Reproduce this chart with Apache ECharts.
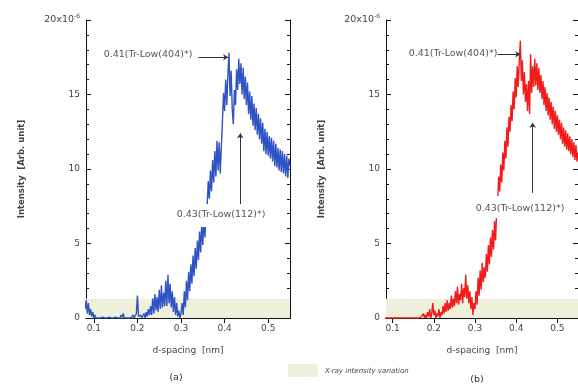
<!DOCTYPE html>
<html>
<head>
<meta charset="utf-8">
<script src="https://cdn.jsdelivr.net/npm/echarts@6/dist/echarts.min.js"></script>
<style>
  html, body { margin: 0; padding: 0; background: #fff; }
  #chart { width: 578px; height: 385px; }
</style>
</head>
<body>
<div id="chart"></div>
<script>
// d-spacing sampling of the spectra (nm)
const dStart = 0.08
const dStep = 0.0025

const xTicks = [0.1, 0.2, 0.3, 0.4, 0.5]
const yTicks = [0, 5, 10, 15, 20]

// (a) blue spectrum, one value per step from 0.08 to 0.55
const intensityA = [
  0.6, 1.2, 0.3, 1.0, 0.2, 0.6, 0.1, 0.4, 0.0, 0.2,
  0, 0.05, 0, 0.1, 0, 0, 0.05, 0, 0, 0.1,
  0, 0, 0.05, 0, 0, 0.1, 0, 0, 0.05, 0,
  0, 0.1, 0, 0.2, 0.05, 0.3, 0, 0.1, 0, 0.05,
  0, 0.1, 0, 0.05, 0.2, 0, 0.1, 0.3, 1.5, 0.1,
  0, 0.2, 0, 0.1, 0.3, 0, 0.4, 0.1, 0.6, 0.2,
  0.8, 0.2, 1.3, 0.3, 1.6, 0.5, 1.4, 0.4, 1.9, 0.6,
  2.2, 0.7, 1.7, 0.8, 2.5, 0.8, 2.9, 1.0, 2.3, 0.7,
  1.8, 0.4, 1.4, 0.2, 1.0, 0.1, 0.5, 0.0, 0.3, 1.0,
  0.2, 1.8, 0.7, 2.5, 1.2, 3.1, 1.8, 3.6, 2.3, 4.2,
  2.8, 4.7, 3.3, 5.2, 3.9, 5.8, 4.4, 6.3, 4.9, 6.8,
  5.4, 7.4, 7.6, 9.2, 8.0, 9.9, 8.5, 10.6, 9.1, 11.2,
  9.5, 11.9, 9.9, 11.8, 9.7, 11.5, 13.2, 15.1, 13.9, 16.0,
  14.3, 16.3, 17.8, 14.9, 16.6, 14.0, 13.0, 15.3, 14.3, 16.7,
  15.3, 17.4, 15.7, 17.1, 15.0, 16.8, 14.7, 16.2, 14.3, 15.8,
  13.7, 15.2, 13.3, 14.9, 12.9, 14.4, 12.6, 14.1, 12.3, 13.7,
  12.0, 13.4, 11.7, 13.1, 11.2, 12.7, 11.0, 12.5, 10.9, 12.2,
  10.7, 12.1, 10.5, 11.9, 10.2, 11.7, 10.1, 11.4, 9.9, 11.3,
  9.8, 11.2, 9.7, 11.0, 9.5, 10.9, 9.4, 10.7, 10.2
]

// (b) red spectrum
const intensityB = [
  0, 0, 0, 0, 0, 0, 0, 0, 0, 0,
  0, 0, 0, 0, 0, 0, 0, 0, 0, 0,
  0, 0, 0, 0, 0, 0, 0, 0, 0, 0,
  0, 0, 0, 0, 0, 0, 0.1, 0, 0.3, 0,
  0.2, 0, 0.4, 0.1, 0.6, 0, 0.3, 1.0, 0.2, 0.5,
  0, 0.3, 0.1, 0.6, 0, 0.4, 0.2, 0.8, 0.3, 1.0,
  0.4, 1.2, 0.5, 1.0, 0.6, 1.5, 0.7, 1.3, 0.8, 1.8,
  1.0, 2.1, 0.9, 1.6, 1.2, 2.3, 1.0, 2.0, 1.4, 2.9,
  1.3, 2.2, 1.0, 1.8, 0.6, 1.4, 0.2, 1.0, 0.6, 1.8,
  0.9, 2.7, 1.5, 3.2, 1.9, 3.7, 2.4, 3.4, 2.7, 4.3,
  3.1, 4.9, 3.6, 5.4, 4.1, 5.9, 4.6, 6.5, 5.2, 7.1,
  7.7, 9.5, 8.5, 10.3, 9.1, 11.1, 9.9, 11.9, 10.7, 12.8,
  11.5, 13.5, 12.5, 14.3, 13.2, 15.2, 14.0, 16.1, 14.8, 16.9,
  15.5, 17.3, 18.6, 15.9, 17.3, 15.0, 16.5, 14.5, 15.7, 13.9,
  15.9, 13.7, 17.7, 15.1, 16.9, 15.5, 17.4, 15.6, 17.1, 15.3,
  16.8, 15.1, 16.3, 14.7, 15.9, 14.3, 15.5, 13.9, 15.1, 13.6,
  14.8, 13.3, 14.5, 13.0, 14.2, 12.7, 13.9, 12.5, 13.6, 12.3,
  13.3, 12.0, 13.1, 11.7, 12.8, 11.5, 12.6, 11.3, 12.4, 11.2,
  12.2, 11.0, 12.0, 10.8, 11.8, 10.6, 11.6, 10.5, 11.1
]

// X-ray intensity variation band
const bandTop = 1.3

// annotation arrows [from, to] in data coords
const arrowsA = [[[0.34, 17.5], [0.408, 17.5]], [[0.436, 7.6], [0.436, 12.4]]]
const arrowsB = [[[0.355, 17.7], [0.41, 17.7]], [[0.44, 8.4], [0.44, 13.1]]]

const labelColor = '#444'
const noteFont = 'DejaVu Sans, sans-serif'

function toPairs (vals) {
  return vals.map(function (v, i) {
    return [+(dStart + i * dStep).toFixed(4), v]
  })
}

function xAxisPair (gridIndex, min, max) {
  let base = {
    type: 'value',
    gridIndex: gridIndex,
    min: min,
    max: max,
    axisLine: { show: true, lineStyle: { color: '#111', width: 1 } },
    axisTick: { show: true, inside: true, length: 5, customValues: xTicks, lineStyle: { color: '#111' } },
    splitLine: { show: false }
  }
  return [
    Object.assign({}, base, {
      position: 'bottom',
      name: 'd-spacing  [nm]',
      nameLocation: 'middle',
      nameGap: 28,
      nameTextStyle: { color: labelColor, fontSize: 9, fontFamily: noteFont },
      axisLabel: {
        customValues: xTicks,
        color: labelColor,
        fontSize: 9,
        fontFamily: noteFont,
        margin: 6,
        formatter: function (v) { return v.toFixed(1) }
      }
    }),
    Object.assign({}, base, { position: 'top', axisLabel: { show: false } })
  ]
}

function yAxisPair (gridIndex) {
  let base = {
    type: 'value',
    gridIndex: gridIndex,
    min: 0,
    max: 20,
    interval: 5,
    axisLine: { show: true, lineStyle: { color: '#111', width: 1 } },
    axisTick: { show: true, inside: true, length: 5, lineStyle: { color: '#111' } },
    minorTick: { show: true, splitNumber: 5, length: 3, lineStyle: { color: '#111' } },
    splitLine: { show: false }
  }
  return [
    Object.assign({}, base, {
      position: 'left',
      name: 'Intensity  [Arb. unit]',
      nameLocation: 'middle',
      nameGap: 60,
      nameTextStyle: { color: labelColor, fontSize: 8.5, fontWeight: 'bold', fontFamily: noteFont },
      axisLabel: {
        color: labelColor,
        fontSize: 9,
        fontFamily: noteFont,
        margin: 6,
        formatter: function (v) {
          return v === 20 ? '{a|20x10}{s|-6}' : String(v)
        },
        rich: {
          a: { fontSize: 9.5, color: labelColor, fontFamily: noteFont },
          s: { fontSize: 6, color: labelColor, fontFamily: noteFont, padding: [0, 0, 7, 0] }
        }
      }
    }),
    Object.assign({}, base, { position: 'right', axisLabel: { show: false } })
  ]
}

function band (xi, yi) {
  return {
    type: 'line',
    xAxisIndex: xi,
    yAxisIndex: yi,
    data: [],
    z: 1,
    markArea: {
      silent: true,
      itemStyle: { color: '#eef0dc' },
      data: [[{ yAxis: 0 }, { yAxis: bandTop }]]
    }
  }
}

function spectrum (vals, color, xi, yi, arrows) {
  return {
    type: 'line',
    xAxisIndex: xi,
    yAxisIndex: yi,
    data: toPairs(vals),
    showSymbol: false,
    symbol: 'none',
    sampling: null,
    lineStyle: { color: color, width: 1.4 },
    z: 3,
    markLine: {
      silent: true,
      symbol: ['none', 'arrow'],
      symbolSize: 5,
      animation: false,
      label: { show: false },
      lineStyle: { color: '#333', width: 1, type: 'solid' },
      data: arrows.map(function (a) {
        return [{ coord: a[0] }, { coord: a[1] }]
      })
    }
  }
}

function textEl (text, x, y, opts) {
  return {
    type: 'text',
    x: x,
    y: y,
    z: 101,
    style: Object.assign({
      text: text,
      fill: '#555',
      fontSize: 9.5,
      fontFamily: noteFont,
      align: 'center',
      verticalAlign: 'middle'
    }, opts || {})
  }
}

function buildOptions () {
  let xa = xAxisPair(0, 0.082, 0.55)
  let xb = xAxisPair(1, 0.084, 0.55)
  let ya = yAxisPair(0)
  let yb = yAxisPair(1)
  return {
    animation: false,
    backgroundColor: '#fff',
    grid: [
      { left: 86, top: 20, width: 204, height: 298 },
      { left: 386, top: 20, width: 201, height: 298 }
    ],
    xAxis: [xa[0], xa[1], xb[0], xb[1]],
    yAxis: [ya[0], ya[1], yb[0], yb[1]],
    series: [
      band(0, 0),
      band(2, 2),
      spectrum(intensityA, '#2f52c4', 0, 0, arrowsA),
      spectrum(intensityB, '#f01c1c', 2, 2, arrowsB)
    ],
    graphic: [
      // white boxes behind the lower annotations
      { type: 'rect', z: 100, shape: { x: 172, y: 204, width: 98, height: 23 }, style: { fill: '#fff' } },
      { type: 'rect', z: 100, shape: { x: 471, y: 196, width: 98, height: 22 }, style: { fill: '#fff' } },
      textEl('0.41(Tr-Low(404)*)', 148, 55),
      textEl('0.43(Tr-Low(112)*)', 221, 215),
      textEl('0.41(Tr-Low(404)*)', 453, 54),
      textEl('0.43(Tr-Low(112)*)', 520, 209),
      textEl('(a)', 176, 378, { fill: '#333' }),
      textEl('(b)', 477, 380, { fill: '#333' }),
      { type: 'rect', z: 100, shape: { x: 288, y: 364, width: 30, height: 13 }, style: { fill: '#eef0dc' } },
      textEl('X-ray intensity variation', 325, 371, { align: 'left', fontSize: 7, fontStyle: 'italic', fill: '#444' })
    ]
  }
}

let myChart = echarts.init(document.getElementById('chart'))
myChart.setOption(buildOptions())
window.onresize = function () {
  myChart.resize()
}
</script>
</body>
</html>
